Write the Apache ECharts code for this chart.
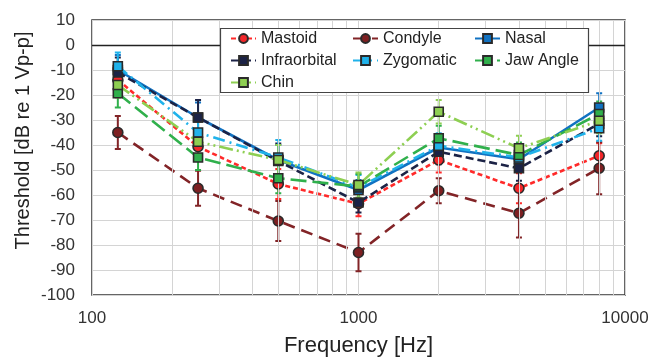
<!DOCTYPE html>
<html><head><meta charset="utf-8">
<script src="https://cdn.jsdelivr.net/npm/echarts@6/dist/echarts.min.js"></script>
<style>html,body{margin:0;padding:0;background:#fff}#c{width:661px;height:358px}</style>
</head><body><div id="c"></div>
<script>
const freqs = [125, 250, 500, 1000, 2000, 4000, 8000];
const minorGridFreqs = [200,300,400,500,600,700,800,900,2000,3000,4000,5000,6000,7000,8000,9000];
const yTicks = [10,0,-10,-20,-30,-40,-50,-60,-70,-80,-90,-100];
const xTicks = [100, 1000, 10000];

const mastoid      = [-14, -40.7, -55.6, -63.5, -46, -57.3, -44.3];
const condyle      = [-35, -57.3, -70.4, -83, -58.3, -67.3, -49.3];
const nasal        = [-10, -29, -46, -58, -41, -45.7, -25];
const infraorbital = [-11, -29, -46.4, -63, -42.7, -49.3, -31.5];
const zygomatic    = [-8.5, -35, -45, -57, -40.3, -45, -33.3];
const jawAngle     = [-19.3, -45, -53.3, -56.6, -37.3, -44, -27.6];
const chin         = [-16, -38.7, -46, -56, -26.7, -41.3, -30.3];

const sdMastoid      = [4, 5, 6, 5, 5, 6, 5];
const sdCondyle      = [6.6, 7, 8, 7.5, 5, 9.7, 10.4];
const sdNasal        = [6, 6, 6, 4, 5, 5, 5.7];
const sdInfraorbital = [6, 7, 7, 4, 5, 5, 5];
const sdZygomatic    = [5.5, 6, 7, 5, 5, 5, 5];
const sdJawAngle     = [5.7, 5, 6, 5, 5, 5, 5];
const sdChin         = [5, 5, 6, 5, 4.7, 5, 5];

const defs = [
  {name:'Mastoid', vals:mastoid, sd:sdMastoid, color:'#F2262A', line:'#FF2A2A', sym:'circle', dash:[5,3]},
  {name:'Condyle', vals:condyle, sd:sdCondyle, color:'#7E2022', line:'#822427', sym:'circle', dash:[12,7]},
  {name:'Nasal', vals:nasal, sd:sdNasal, color:'#1172C2', line:'#1172C2', sym:'rect', dash:'solid'},
  {name:'Infraorbital', vals:infraorbital, sd:sdInfraorbital, color:'#1C2346', line:'#1C2346', sym:'rect', dash:[8,4]},
  {name:'Zygomatic', vals:zygomatic, sd:sdZygomatic, color:'#20B2EA', line:'#20B2EA', sym:'rect', dash:[12,5,2,5]},
  {name:'Jaw Angle', vals:jawAngle, sd:sdJawAngle, color:'#30B04C', line:'#30B04C', sym:'rect', dash:[16,6]},
  {name:'Chin', vals:chin, sd:sdChin, color:'#8ECF52', line:'#8ECF52', sym:'rect', dash:[14,4,2,4,2,4]}
];

const series = [];
defs.forEach((d, i) => {
  series.push({
    name: d.name + '_err', type: 'custom', z: 1,
    silent: true,
    data: freqs.map((f, k) => [f, d.vals[k] - d.sd[k], d.vals[k] + d.sd[k]]),
    encode: {x: 0, y: [1, 2]},
    renderItem: function (params, api) {
      const x = api.value(0);
      const lo = api.coord([x, api.value(1)]);
      const hi = api.coord([x, api.value(2)]);
      const st = {stroke: d.line, lineWidth: 2};
      return {type: 'group', children: [
        {type: 'line', shape: {x1: lo[0], y1: lo[1], x2: hi[0], y2: hi[1]}, style: st},
        {type: 'line', shape: {x1: lo[0]-3, y1: lo[1], x2: lo[0]+3, y2: lo[1]}, style: st},
        {type: 'line', shape: {x1: hi[0]-3, y1: hi[1], x2: hi[0]+3, y2: hi[1]}, style: st}
      ]};
    }
  });
});
defs.forEach((d, i) => {
  series.push({
    name: d.name, type: 'line', z: 3 + i,
    data: freqs.map((f, k) => [f, d.vals[k]]),
    symbol: d.sym, symbolSize: d.sym === 'circle' ? 10 : 9,
    showSymbol: true,
    lineStyle: {color: d.line, width: 2.6, type: d.dash},
    itemStyle: {color: d.color, borderColor: '#2a2a2a', borderWidth: 1.6},
    emphasis: {disabled: true},
    animation: false
  });
});
series.push({
  name: 'gridhelper', type: 'line', data: [], silent: true, z: 0,
  markLine: {
    silent: true, symbol: 'none', label: {show: false}, animation: false,
    data: minorGridFreqs.map(f => ({xAxis: f, lineStyle: {color: '#D4D4D4', width: 1, type: 'solid'}}))
      .concat([{yAxis: 0, lineStyle: {color: '#222', width: 1.3, type: 'solid'}}])
  }
});

const font = 'Liberation Sans, Arial, sans-serif';
const legCommon = {
  orient: 'vertical', padding: 0, itemGap: 5, itemWidth: 25, itemHeight: 11,
  textStyle: {fontFamily: font, fontSize: 16, color: '#222', lineHeight: 17},
  z: 20, selectedMode: false
};

const chart = echarts.init(document.getElementById('c'), null, {renderer: 'canvas'});
chart.setOption({
  animation: false,
  backgroundColor: '#fff',
  grid: {left: 92, right: 36, top: 20, bottom: 63, show: true, borderColor: '#333', borderWidth: 1.5,
    backgroundColor: 'transparent', containLabel: false, outerBoundsMode: 'none'},
  xAxis: {
    type: 'log', logBase: 10, min: 100, max: 10000,
    name: 'Frequency [Hz]', nameLocation: 'middle', nameGap: 40, nameMoveOverlap: false,
    nameTextStyle: {fontFamily: font, fontSize: 22, color: '#222'},
    axisLine: {show: false}, axisTick: {show: false},
    axisLabel: {fontFamily: font, fontSize: 17, color: '#333', margin: 15,
      formatter: v => xTicks.includes(Math.round(v)) ? String(Math.round(v)) : ''},
    splitLine: {show: true, lineStyle: {color: '#D4D4D4', width: 1}}
  },
  yAxis: {
    type: 'value', min: -100, max: 10, interval: 10,
    name: 'Threshold [dB re 1 Vp-p]', nameLocation: 'middle', nameGap: 59, nameMoveOverlap: false,
    nameTextStyle: {fontFamily: font, fontSize: 20, color: '#222', padding: [0, 0, 0, 34]},
    axisLine: {show: false}, axisTick: {show: false},
    axisLabel: {fontFamily: font, fontSize: 17, color: '#333', margin: 17,
      formatter: v => yTicks.includes(v) ? String(v) : ''},
    splitLine: {show: true, lineStyle: {color: '#D4D4D4', width: 1}}
  },
  legend: [
    Object.assign({left: 230, top: 30, data: ['Mastoid', 'Infraorbital', 'Chin']}, legCommon),
    Object.assign({left: 352, top: 30, data: ['Condyle', 'Zygomatic']}, legCommon),
    Object.assign({left: 474, top: 30, data: ['Nasal', 'Jaw Angle']}, legCommon)
  ],
  graphic: [{
    type: 'rect', z: 15, silent: true,
    shape: {x: 220.5, y: 28.5, width: 368, height: 64},
    style: {fill: '#fff', stroke: '#444', lineWidth: 1.2}
  }],
  series: series
});
</script></body></html>
